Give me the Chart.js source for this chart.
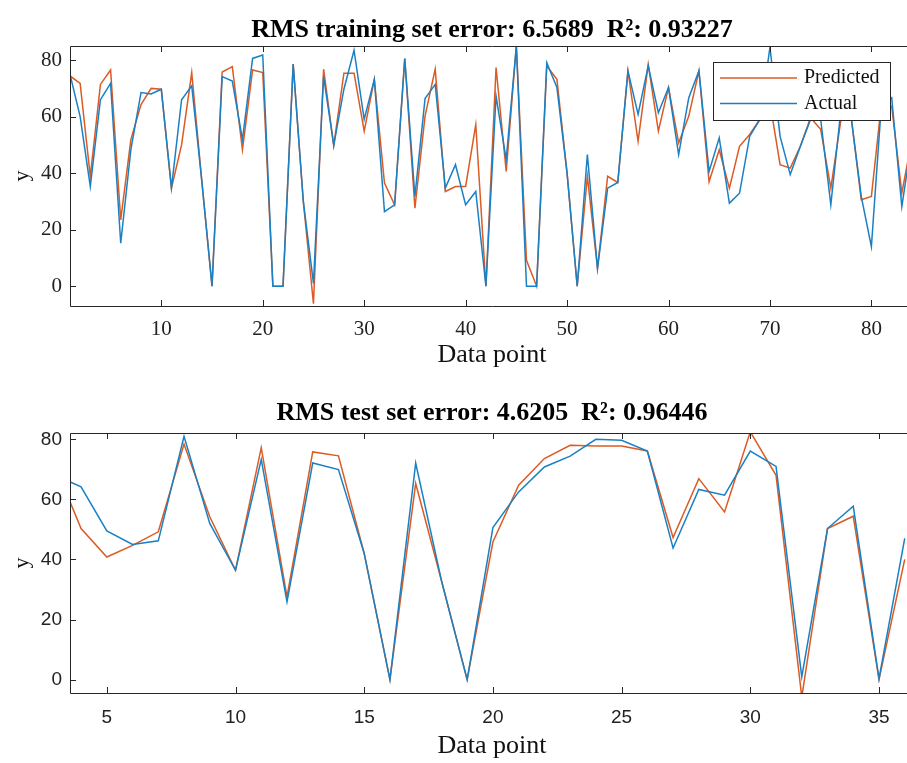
<!DOCTYPE html>
<html lang="en">
<head>
<meta charset="UTF-8">
<title>RMS training and test set error</title>
<script src="https://cdn.jsdelivr.net/npm/chart.js"></script>
<style>
  html, body { margin: 0; padding: 0; background: #fff; overflow: hidden; }
  .panel { position: absolute; left: 0; width: 920px; }
  #top { top: 0; height: 390px; }
  #bottom { top: 390px; height: 373px; }
</style>
</head>
<body>
<div class="panel" id="top"><canvas id="trainChart"></canvas></div>
<div class="panel" id="bottom"><canvas id="testChart"></canvas></div>
<script>
// training set, data points 1..84
const trainStart = 1;
const trainPredicted = [74.4, 71.8, 38.9, 71.4, 76.5, 23.5, 51.9, 64.3, 70, 69.7,
    34.7, 50, 75.6, 37, 0, 75.8, 77.7, 48.3, 76.5, 75.6,
    0, 0, 78.6, 30, -6.2, 76.8, 49.8, 75.4, 75.4, 54.9,
    73.2, 36.5, 28.8, 80.6, 27.6, 60.2, 76.8, 33.5, 35.3, 35.3,
    57.2, 0, 77.4, 40.6, 85, 9.2, 0, 78, 73.2, 40,
    0, 38.9, 6.3, 38.9, 36.7, 76.2, 51.3, 78.5, 54.9, 70.3,
    50.7, 60.2, 76.2, 37, 48.3, 34.7, 49.5, 53.7, 59, 65,
    43, 41.8, 49.5, 59.6, 55.5, 34.7, 59, 60, 30.6, 31.8,
    65, 63.7, 33, 52];
const trainActual = [75, 60, 35.3, 66, 71.8, 15.2, 48.3, 68.5, 68, 69.7,
    34.7, 66, 70.9, 37, 0, 74.2, 72.6, 51.9, 80.6, 81.8,
    0, 0, 78.6, 30, 1, 74.2, 49.8, 69.7, 83.5, 59,
    73.2, 26.4, 28.8, 80.6, 31.8, 66.4, 71.4, 34.7, 43, 28.8,
    33.5, 0, 67.3, 44.8, 85, 0, 0, 79.1, 70.3, 40,
    0, 46.6, 6.3, 34.7, 36.7, 76.2, 60.8, 78, 61.4, 70.3,
    46.6, 66.7, 76.2, 40.6, 52.5, 29.4, 32.9, 53, 59, 84.5,
    53, 39.5, 49.5, 59, 59, 28.8, 62.6, 60, 31.8, 14,
    65, 66.7, 28.2, 52];

// test set, data points 3..36
const testStart = 3;
const testPredicted = [71, 50.3, 40.8, 44.7, 49.2, 78.4, 54.2, 36.4, 77.2, 27.5,
    75.8, 74.5, 42, 0, 65.3, 33, 0, 45.8, 64.7, 73.6,
    78, 77.8, 77.8, 76.1, 47.3, 66.9, 55.8, 82.5, 68, -5.8,
    50.3, 54.4, 0, 40];
const testActual = [68, 64.2, 49.5, 45, 46.2, 81, 52, 36.4, 73.3, 25.9,
    72.1, 69.9, 42, 0, 72.1, 33, 0, 50.6, 62.5, 70.8,
    74.4, 80, 79.7, 76.1, 43.8, 63.3, 61.4, 76.1, 71, 0.9,
    50.3, 57.7, 0.3, 47];

const trainXTicks = [10, 20, 30, 40, 50, 60, 70, 80];
const trainYTicks = [0, 20, 40, 60, 80];
const testXTicks = [5, 10, 15, 20, 25, 30, 35];
const testYTicks = [0, 20, 40, 60, 80];

const orange = '#dc5a24';
const blue = '#1a80c4';
const axisColor = '#262626';

const toPoints = (vals, start) => vals.map((v, i) => ({x: start + i, y: v}));
const fixTicks = vals => scale => { scale.ticks = vals.map(v => ({value: v})); };

// centre the title over the plot box rather than the whole canvas
const centreTitle = {
    id: 'centreTitle',
    afterLayout(chart) {
        const tb = chart.titleBlock;
        if (!tb) return;
        tb.left = chart.chartArea.left;
        tb.right = chart.chartArea.right;
    }
};

// MATLAB style box with inward ticks on all four sides
const matlabAxes = {
    id: 'matlabAxes',
    afterDatasetsDraw(chart) {
        const {ctx, chartArea: a, scales} = chart;
        const len = 6;
        ctx.save();
        ctx.strokeStyle = axisColor;
        ctx.lineWidth = 1;
        ctx.beginPath();
        ctx.rect(Math.round(a.left) + 0.5, Math.round(a.top) + 0.5,
                 Math.round(a.right - a.left), Math.round(a.bottom - a.top));
        scales.x.ticks.forEach(t => {
            const px = Math.round(scales.x.getPixelForValue(t.value)) + 0.5;
            ctx.moveTo(px, a.bottom); ctx.lineTo(px, a.bottom - len);
            ctx.moveTo(px, a.top); ctx.lineTo(px, a.top + len);
        });
        scales.y.ticks.forEach(t => {
            const py = Math.round(scales.y.getPixelForValue(t.value)) + 0.5;
            ctx.moveTo(a.left, py); ctx.lineTo(a.left + len, py);
            ctx.moveTo(a.right, py); ctx.lineTo(a.right - len, py);
        });
        ctx.stroke();
        ctx.restore();
    }
};

// boxed legend inside the plot, top right
const boxLegend = {
    id: 'boxLegend',
    afterDraw(chart, args, opts) {
        if (!opts.show) return;
        const {ctx, chartArea} = chart;
        const w = 177, h = 58;
        const x0 = Math.round(chartArea.right - opts.right - w);
        const y0 = Math.round(chartArea.top + opts.top);
        ctx.save();
        ctx.fillStyle = '#fff';
        ctx.fillRect(x0, y0, w, h);
        ctx.strokeStyle = axisColor;
        ctx.lineWidth = 1;
        ctx.strokeRect(x0 + 0.5, y0 + 0.5, w, h);
        ctx.font = '20px "Liberation Serif"';
        ctx.textBaseline = 'middle';
        chart.data.datasets.forEach((ds, k) => {
            const ly = y0 + 16 + k * 25.6;
            ctx.strokeStyle = ds.borderColor;
            ctx.lineWidth = ds.borderWidth;
            ctx.beginPath();
            ctx.moveTo(x0 + 7, ly);
            ctx.lineTo(x0 + 84, ly);
            ctx.stroke();
            ctx.fillStyle = '#111';
            ctx.fillText(ds.label, x0 + 91, ly);
        });
        ctx.restore();
    }
};

function makeChart(id, cfg) {
    return new Chart(document.getElementById(id), {
        type: 'line',
        data: {datasets: [
            {label: 'Predicted', data: toPoints(cfg.predicted, cfg.start), borderColor: orange,
             borderWidth: 1.5, pointRadius: 0, tension: 0, order: 1},
            {label: 'Actual', data: toPoints(cfg.actual, cfg.start), borderColor: blue,
             borderWidth: 1.5, pointRadius: 0, tension: 0, order: 0}
        ]},
        plugins: [centreTitle, matlabAxes, boxLegend],
        options: {
            responsive: true,
            maintainAspectRatio: false,
            animation: false,
            // plot box runs past the window edge, up to x=914
            layout: {padding: {left: 0, top: 0, bottom: 0, right: 6}},
            plugins: {
                legend: {display: false},
                tooltip: {enabled: false},
                boxLegend: {show: cfg.legend, right: 24, top: 16},
                title: {
                    display: true,
                    text: cfg.title,
                    color: '#000',
                    font: {family: '"Liberation Serif"', size: 26, weight: 'bold'},
                    padding: cfg.titlePad
                }
            },
            scales: {
                x: {
                    type: 'linear',
                    min: cfg.xmin, max: cfg.xmax,
                    afterBuildTicks: fixTicks(cfg.xTicks),
                    afterFit: s => { s.height = cfg.xHeight; },
                    grid: {display: false, drawTicks: false},
                    border: {display: false},
                    ticks: {color: '#222', font: cfg.tickFont, padding: cfg.xTickPad,
                            autoSkip: false, maxRotation: 0},
                    title: {display: true, text: 'Data point', color: '#111',
                            font: {family: '"Liberation Serif"', size: 26},
                            padding: {top: 0, bottom: cfg.xTitlePad}}
                },
                y: {
                    min: cfg.ymin, max: cfg.ymax,
                    afterBuildTicks: fixTicks(cfg.yTicks),
                    afterFit: s => { s.width = 70; },
                    grid: {display: false, drawTicks: false},
                    border: {display: false},
                    ticks: {color: '#222', font: cfg.tickFont, padding: 8},
                    title: {display: true, text: 'y', color: '#111',
                            font: {family: '"Liberation Serif"', size: 22},
                            padding: {top: 9, bottom: 0}}
                }
            }
        }
    });
}

makeChart('trainChart', {
    predicted: trainPredicted, actual: trainActual, start: trainStart,
    title: 'RMS training set error: 6.5689  R²: 0.93227',
    titlePad: {top: 14.4, bottom: 0.4},
    xmin: 1, xmax: 84.2, ymin: -7, ymax: 85,
    xTicks: trainXTicks, yTicks: trainYTicks,
    xHeight: 84, xTickPad: 11, xTitlePad: 19.4,
    tickFont: {family: '"Liberation Serif"', size: 21},
    legend: true
});

makeChart('testChart', {
    predicted: testPredicted, actual: testActual, start: testStart,
    title: 'RMS test set error: 4.6205  R²: 0.96446',
    titlePad: {top: 7.4, bottom: 4.4},
    xmin: 3.57, xmax: 36.36, ymin: -4.46, ymax: 82.1,
    xTicks: testXTicks, yTicks: testYTicks,
    xHeight: 70, xTickPad: 13, xTitlePad: 1.4,
    tickFont: {family: '"Liberation Sans"', size: 19},
    legend: false
});
</script>
</body>
</html>
